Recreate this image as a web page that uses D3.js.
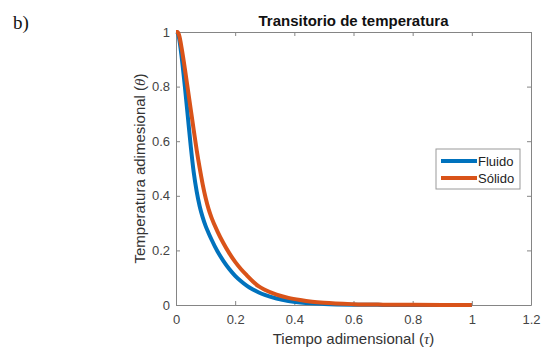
<!DOCTYPE html>
<html>
<head>
<meta charset="utf-8">
<script src="https://cdn.jsdelivr.net/npm/d3@7"></script>
<style>
  html, body { margin: 0; padding: 0; background: #fff; }
  svg { display: block; }
</style>
</head>
<body>
<svg id="chart" width="542" height="347"></svg>
<script>
// Dimensionless time samples
const tau = [0, 0.005, 0.01, 0.02, 0.03, 0.04, 0.05, 0.06, 0.07, 0.08, 0.09, 0.10, 0.11,
             0.12, 0.14, 0.16, 0.18, 0.20, 0.22, 0.24, 0.26, 0.28, 0.30,
             0.34, 0.38, 0.42, 0.46, 0.50, 0.60, 0.70, 0.80, 0.90, 1.00];

// Dimensionless temperature of the fluid
const thetaFluido = [1, 0.998, 0.98, 0.90, 0.80, 0.69, 0.58, 0.485, 0.415, 0.362, 0.322, 0.29, 0.264,
                     0.24, 0.197, 0.162, 0.132, 0.107, 0.087, 0.070, 0.057, 0.046, 0.037,
                     0.024, 0.015, 0.0095, 0.006, 0.004, 0.0013, 0.0004, 0.0001, 0, 0];

// Dimensionless temperature of the solid
const thetaSolido = [1, 1, 0.99, 0.935, 0.865, 0.79, 0.715, 0.64, 0.567, 0.502, 0.443, 0.393, 0.352,
                     0.32, 0.27, 0.227, 0.19, 0.158, 0.131, 0.108, 0.086, 0.068, 0.056,
                     0.038, 0.026, 0.018, 0.012, 0.008, 0.003, 0.0012, 0.0005, 0.0002, 0.0001];

const xTicks = [0, 0.2, 0.4, 0.6, 0.8, 1, 1.2];
const yTicks = [0, 0.2, 0.4, 0.6, 0.8, 1];

const seriesNames = ["Fluido", "Sólido"];
const seriesColors = ["#0072BD", "#D95319"];

const svg = d3.select("#chart");
const font = "Liberation Sans, Arial, sans-serif";

const plotL = 176, plotR = 531, plotT = 32, plotB = 305;
const x = d3.scaleLinear().domain([0, 1.2]).range([plotL, plotR]);
const y = d3.scaleLinear().domain([0, 1]).range([plotB, plotT]);

// Panel label
svg.append("text")
  .attr("x", 13).attr("y", 29)
  .attr("font-family", "Liberation Serif, Times New Roman, serif")
  .attr("font-size", 19)
  .attr("fill", "#111")
  .text("b)");

// Axes with inward ticks on all four sides
const axisColor = "#858585";
const tickLen = 4;
function styleAxis(g) {
  g.select(".domain").attr("stroke", axisColor).attr("stroke-width", 1);
  g.selectAll(".tick line").attr("stroke", axisColor);
  g.selectAll(".tick text")
    .attr("fill", "#444")
    .attr("font-family", font)
    .attr("font-size", 13);
}

svg.append("g").attr("transform", `translate(0,${plotB})`)
  .call(d3.axisBottom(x).tickValues(xTicks).tickFormat(d3.format("")).tickSizeInner(-tickLen).tickSizeOuter(0).tickPadding(10))
  .call(styleAxis);

svg.append("g").attr("transform", `translate(0,${plotT})`)
  .call(d3.axisTop(x).tickValues(xTicks).tickFormat("").tickSizeInner(-tickLen).tickSizeOuter(0))
  .call(styleAxis);

svg.append("g").attr("transform", `translate(${plotL},0)`)
  .call(d3.axisLeft(y).tickValues(yTicks).tickFormat(d3.format("")).tickSizeInner(-tickLen).tickSizeOuter(0).tickPadding(6))
  .call(styleAxis);

svg.append("g").attr("transform", `translate(${plotR},0)`)
  .call(d3.axisRight(y).tickValues(yTicks).tickFormat("").tickSizeInner(-tickLen).tickSizeOuter(0))
  .call(styleAxis);

// Curves
const line = d3.line()
  .x((d, i) => x(tau[i]))
  .y(d => y(d))
  .curve(d3.curveMonotoneX);

[thetaFluido, thetaSolido].forEach((vals, k) => {
  svg.append("path")
    .datum(vals)
    .attr("d", line)
    .attr("fill", "none")
    .attr("stroke", seriesColors[k])
    .attr("stroke-width", 4)
    .attr("stroke-linejoin", "round");
});

// Title
svg.append("text")
  .attr("x", (plotL + plotR) / 2).attr("y", 26)
  .attr("text-anchor", "middle")
  .attr("font-family", font)
  .attr("font-weight", "bold")
  .attr("font-size", 15)
  .attr("fill", "#111")
  .text("Transitorio de temperatura");

// X axis label
const xl = svg.append("text")
  .attr("x", (plotL + plotR) / 2).attr("y", 344)
  .attr("text-anchor", "middle")
  .attr("font-family", font)
  .attr("font-size", 15)
  .attr("fill", "#333");
xl.append("tspan").text("Tiempo adimensional (");
xl.append("tspan").attr("font-family", "Liberation Serif, serif").attr("font-style", "italic").text("τ");
xl.append("tspan").text(")");

// Y axis label
const yl = svg.append("text")
  .attr("transform", `translate(145,${(plotT + plotB) / 2}) rotate(-90)`)
  .attr("text-anchor", "middle")
  .attr("font-family", font)
  .attr("font-size", 15)
  .attr("fill", "#333");
yl.append("tspan").text("Temperatura adimesional (");
yl.append("tspan").attr("font-family", "Liberation Serif, serif").attr("font-style", "italic").text("θ");
yl.append("tspan").text(")");

// Legend
const lg = svg.append("g").attr("transform", "translate(436,149)");
lg.append("rect")
  .attr("width", 84).attr("height", 40)
  .attr("fill", "#fff")
  .attr("stroke", "#9a9a9a")
  .attr("stroke-width", 1);
seriesNames.forEach((name, k) => {
  const yy = 12 + k * 17;
  lg.append("line")
    .attr("x1", 5).attr("x2", 41)
    .attr("y1", yy).attr("y2", yy)
    .attr("stroke", seriesColors[k])
    .attr("stroke-width", 4);
  lg.append("text")
    .attr("x", 42).attr("y", yy + 4.5)
    .attr("font-family", font)
    .attr("font-size", 13)
    .attr("fill", "#222")
    .text(name);
});
</script>
</body>
</html>
